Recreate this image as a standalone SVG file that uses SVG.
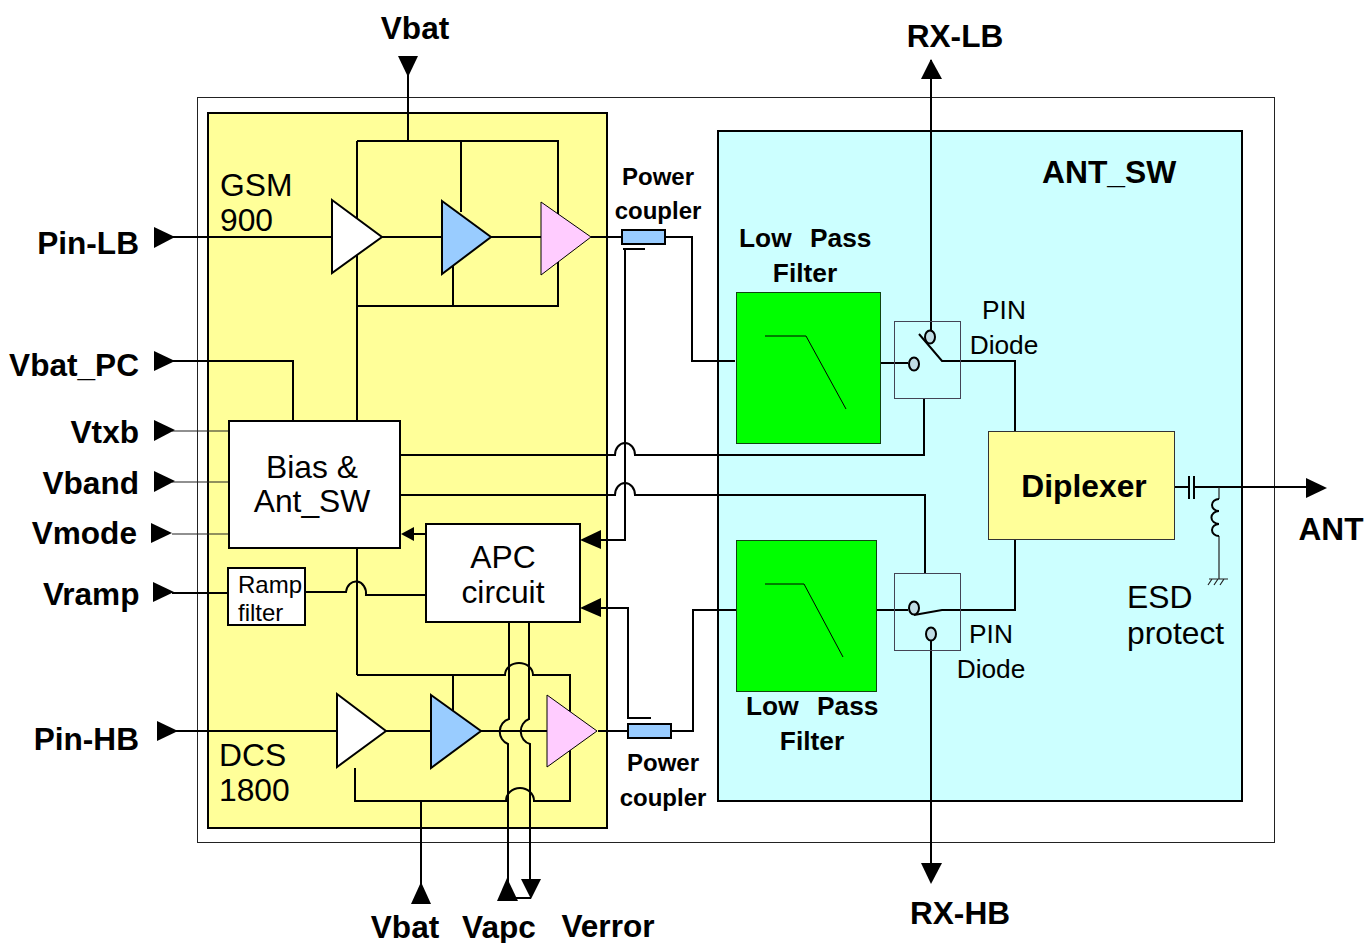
<svg xmlns="http://www.w3.org/2000/svg" width="1367" height="943" viewBox="0 0 1367 943">
<style>
text{font-family:"Liberation Sans",Arial,sans-serif;fill:#000}
.b{font-weight:bold}
.l{fill:none;stroke:#000;stroke-width:2}
.t{fill:none;stroke:#222;stroke-width:1.2}
.h{fill:#000;stroke:none}
.f31{font-size:31.6px}.f33{font-size:31.8px}.f26{font-size:26.3px}.f25{font-size:24px}.f24{font-size:24px}
</style>
<rect width="1367" height="943" fill="#fff"/>
<g id="chip"><rect x="197.500" y="97.500" width="1077" height="745" fill="#fff" stroke="#222" stroke-width="1"/></g>
<g id="pa-block"><rect x="208" y="113" width="399" height="715" fill="#ffff99" stroke="#000" stroke-width="2"/></g>
<g id="ant-sw-block"><rect x="718" y="131" width="524" height="670" fill="#ccffff" stroke="#000" stroke-width="2"/>
<text x="1042" y="183" class="b f33">ANT_SW</text></g>

<g id="connectors">
<path class="l" d="M408 70V141M357 141H558V306H357M461 141V212M453 306V250M357 141V421M357 548V675"/>
<path class="l" d="M170 237H332M382 237H442M491 237H541M591 237H622M665 237H692V361H735"/>
<path class="l" d="M170 361H293V421"/>
<path class="t" d="M172 431H229M172 482H229M172 534H229"/>
<path class="l" d="M172 593H228"/>
<path class="l" d="M400 455H615A10 12 0 0 1 635 455H924V398"/>
<path class="l" d="M400 495H615A10 12 0 0 1 635 495H925V573"/>
<path class="l" d="M305 592H346A10 12 0 0 1 366 595H426"/>
<path class="l" d="M426 534H412"/>
<path class="l" d="M645 249H625V540H600"/>
<path class="l" d="M600 608H628V718H651"/>
<path class="l" d="M172 731H337M386 731H431M481 731H547M598 731H628M671 731H693V610H736"/>
<path class="l" d="M357 675H505A14 12 0 0 1 533 675H570V801H534A14 13 0 0 0 506 801H355V768M453 675V715M421 801V885"/>
<path class="l" d="M509 623V719A12 13 0 0 0 508 744V885M529 623V719A12 13 0 0 0 530 744V880"/>
<path class="l" d="M507 898H531"/>
<path class="l" d="M881 363H908M877 610H908"/>
<path class="l" d="M931 60V331"/>
<path class="l" d="M919 334L942 361H1015V431M1015 540V610H942L914 615"/>
<path class="l" d="M931 640V865"/>
<path class="l" d="M1175 487H1189M1193 487H1312"/>
<path class="l" d="M1189 476V499M1194 476V499" stroke-width="1.500"/>
<path class="t" d="M1219 487V499M1219 536V579M1209 579H1228M1212 579L1208 585M1218 579L1214 585M1224 579L1220 585" stroke-width="1.500"/>
<path class="l" d="M1219 499A7 6 0 0 0 1219 511A7 6 0 0 0 1219 524A7 6 0 0 0 1219 536"/>
<path class="l" d="M623 249H645" stroke-width="1.500"/>
</g>

<g id="arrows">
<polygon class="h" points="398,56 418,56 408,77"/>
<polygon class="h" points="154,227 154,248 175,237"/>
<polygon class="h" points="154,351 154,371 175,361"/>
<polygon class="h" points="154,420 154,441 175,430"/>
<polygon class="h" points="154,471 154,492 175,481"/>
<polygon class="h" points="151,523 151,543 172,533"/>
<polygon class="h" points="153,582 153,602 174,592"/>
<polygon class="h" points="157,721 157,741 178,731"/>
<polygon class="h" points="414,527 401,534 414,541"/>
<polygon class="h" points="601,530 601,549 580,540"/>
<polygon class="h" points="601,598 601,617 580,608"/>
<polygon class="h" points="411,904 431,904 421,882"/>
<polygon class="h" points="497,901 518,901 507,878"/>
<polygon class="h" points="521,879 541,879 531,899"/>
<polygon class="h" points="921,79 942,79 931,59"/>
<polygon class="h" points="921,863 942,863 931,884"/>
<polygon class="h" points="1306,478 1306,498 1327,488"/>
</g>

<g id="amp-lb1"><polygon points="332,200 382,237 332,273" fill="#fff" stroke="#000" stroke-width="2"/></g>
<g id="amp-lb2"><polygon points="442,201 491,237 442,274" fill="#99ccff" stroke="#000" stroke-width="2"/></g>
<g id="amp-lb3"><polygon points="541,202 591,237 541,275" fill="#ffccff" stroke="#000" stroke-width="1"/></g>
<g id="amp-hb1"><polygon points="337,694 386,731 337,767" fill="#fff" stroke="#000" stroke-width="2"/></g>
<g id="amp-hb2"><polygon points="431,695 481,731 431,768" fill="#99ccff" stroke="#000" stroke-width="2"/></g>
<g id="amp-hb3"><polygon points="547,695 597,731 547,767" fill="#ffccff" stroke="#000" stroke-width="1"/></g>

<g id="coupler-lb"><rect x="622" y="230" width="43" height="14" fill="#99ccff" stroke="#000" stroke-width="2"/></g>
<g id="coupler-hb"><rect x="628" y="724" width="43" height="14" fill="#99ccff" stroke="#000" stroke-width="2"/></g>

<g id="bias"><rect x="229" y="421" width="171" height="127" fill="#fff" stroke="#000" stroke-width="2"/>
<text x="312" y="478" class="f33" text-anchor="middle">Bias &amp;</text>
<text x="312" y="512" class="f33" text-anchor="middle">Ant_SW</text></g>
<g id="ramp"><rect x="228" y="568" width="77" height="57" fill="#fff" stroke="#000" stroke-width="2"/>
<text x="238" y="593" class="f24">Ramp</text><text x="238" y="621" class="f24">filter</text></g>
<g id="apc"><rect x="426" y="524" width="154" height="98" fill="#fff" stroke="#000" stroke-width="2"/>
<text x="503" y="568" class="f33" text-anchor="middle">APC</text>
<text x="503" y="603" class="f33" text-anchor="middle">circuit</text></g>

<g id="lpf-lb"><rect x="736.500" y="292.500" width="144" height="151" fill="#00ff00" stroke="#114411" stroke-width="1"/>
<path d="M765 336H806L846 409" fill="none" stroke="#000" stroke-width="1"/></g>
<g id="lpf-hb"><rect x="736.500" y="540.500" width="140" height="151" fill="#00ff00" stroke="#114411" stroke-width="1"/>
<path d="M765 584H804L843 657" fill="none" stroke="#000" stroke-width="1"/></g>

<g id="sw-lb"><rect x="894.500" y="321.500" width="66" height="77" fill="none" stroke="#445" stroke-width="1"/>
<ellipse cx="930" cy="337" rx="5" ry="6.500" fill="#c0dde5" stroke="#000" stroke-width="2"/>
<ellipse cx="914" cy="364" rx="5" ry="6.500" fill="#c0dde5" stroke="#000" stroke-width="2"/></g>
<g id="sw-hb"><rect x="894.500" y="573.500" width="66" height="77" fill="none" stroke="#445" stroke-width="1"/>
<ellipse cx="914" cy="608" rx="5" ry="6.500" fill="#c0dde5" stroke="#000" stroke-width="2"/>
<ellipse cx="931" cy="634" rx="5" ry="6.500" fill="#c0dde5" stroke="#000" stroke-width="2"/></g>

<g id="diplexer"><rect x="988.500" y="431.500" width="186" height="108" fill="#ffff99" stroke="#333" stroke-width="1"/>
<text x="1084" y="497" class="b f33" text-anchor="middle">Diplexer</text></g>

<g id="labels">
<text x="415" y="39" class="b f31" text-anchor="middle">Vbat</text>
<text x="955" y="47" class="b f31" text-anchor="middle">RX-LB</text>
<text x="139" y="254" class="b f31" text-anchor="end">Pin-LB</text>
<text x="139" y="376" class="b f31" text-anchor="end">Vbat_PC</text>
<text x="139" y="443" class="b f31" text-anchor="end">Vtxb</text>
<text x="139" y="494" class="b f31" text-anchor="end">Vband</text>
<text x="137" y="544" class="b f31" text-anchor="end">Vmode</text>
<text x="139.500" y="605" class="b f31" text-anchor="end">Vramp</text>
<text x="139" y="750" class="b f31" text-anchor="end">Pin-HB</text>
<text x="220" y="196" class="f33">GSM</text><text x="220" y="231" class="f33">900</text>
<text x="219" y="766" class="f33">DCS</text><text x="219" y="801" class="f33">1800</text>
<text x="658" y="185" class="b f25" text-anchor="middle">Power</text>
<text x="658" y="219" class="b f25" text-anchor="middle">coupler</text>
<text x="663" y="771" class="b f25" text-anchor="middle">Power</text>
<text x="663" y="806" class="b f25" text-anchor="middle">coupler</text>
<text y="247" class="b f26"><tspan x="739">Low</tspan><tspan x="810">Pass</tspan></text>
<text x="805" y="282" class="b f26" text-anchor="middle">Filter</text>
<text y="715" class="b f26"><tspan x="746">Low</tspan><tspan x="817">Pass</tspan></text>
<text x="812" y="750" class="b f26" text-anchor="middle">Filter</text>
<text x="1004" y="319" class="f26" text-anchor="middle">PIN</text>
<text x="1004" y="354" class="f26" text-anchor="middle">Diode</text>
<text x="991" y="643" class="f26" text-anchor="middle">PIN</text>
<text x="991" y="678" class="f26" text-anchor="middle">Diode</text>
<text x="1127" y="608" class="f33">ESD</text>
<text x="1127" y="644" class="f33">protect</text>
<text x="1331" y="540" class="b f31" text-anchor="middle">ANT</text>
<text x="960" y="924" class="b f31" text-anchor="middle">RX-HB</text>
<text x="405" y="938" class="b f31" text-anchor="middle">Vbat</text>
<text x="499" y="938" class="b f31" text-anchor="middle">Vapc</text>
<text x="608" y="937" class="b f31" text-anchor="middle">Verror</text>
</g>
</svg>
